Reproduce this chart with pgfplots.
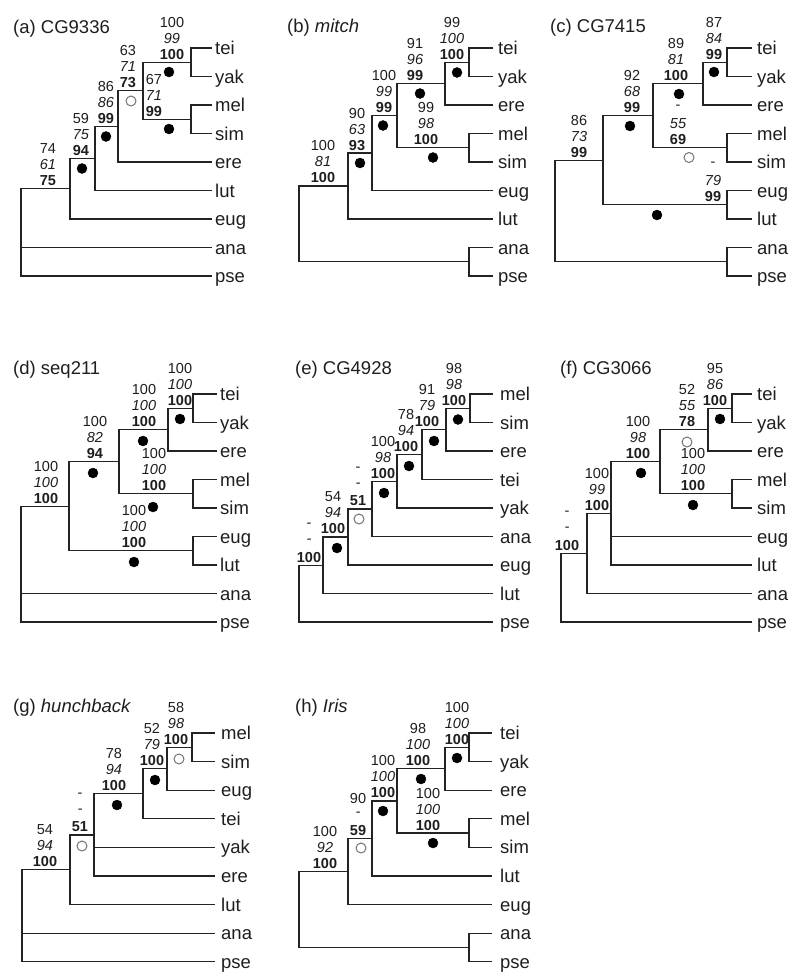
\documentclass[border=0pt]{standalone}
\usepackage{pgfplots}
\pgfplotsset{compat=1.18}
\usepackage{fontspec}
\setmainfont{Liberation Sans}
\definecolor{ln}{RGB}{35,35,35}
\definecolor{tx}{RGB}{30,30,30}
\tikzset{
  nf/.style={inner sep=0pt, font=\fontsize{14.5}{16}\selectfont, text=tx},
  ni/.style={inner sep=0pt, font=\fontsize{14.5}{16}\selectfont\itshape, text=tx},
  nb/.style={inner sep=0pt, font=\fontsize{14.5}{16}\selectfont\bfseries, text=tx},
  lab/.style={anchor=base west, inner sep=0pt, font=\fontsize{18.5}{20}\selectfont, text=tx}
}
\pgfplotsset{br/.style={ln, line width=1.3pt, forget plot}}
\newcommand{\br}[1]{\addplot[br] coordinates {#1};}
\newcommand{\tip}[3]{\node[lab] at (axis cs:#1,#2+6.5) {#3};}
\newcommand{\sv}[5]{%
  \node[nf] at (axis cs:#1,#2-40) {#3};
  \node[ni] at (axis cs:#1,#2-24) {#4};
  \node[nb] at (axis cs:#1,#2-8) {#5};}
\newcommand{\fdots}[1]{\addplot[only marks, mark=*, mark size=5pt, black, forget plot] coordinates {#1};}
\newcommand{\odots}[1]{\addplot[only marks, mark=o, mark size=5pt, black!55, mark options={line width=1pt}, forget plot] coordinates {#1};}
\begin{document}
\begin{tikzpicture}
\begin{axis}[width=800pt, height=980pt, scale only axis, xmin=0, xmax=800, ymin=0, ymax=980, y dir=reverse, hide axis, clip=false]
\path (axis cs:0,0) rectangle (axis cs:800,980);
% ---------- (a) CG9336
\node[lab] at (axis cs:13,33.5) {(a) CG9336};
\br{(212,48)(191,48)(191,76.5)(212,76.5)}
\br{(212,105)(191,105)(191,133.5)(212,133.5)}
\br{(191,62.25)(143,62.25)(143,119.25)(191,119.25)}
\br{(143,90.75)(118,90.75)(118,162)(212,162)}
\br{(118,126.4)(95,126.4)(95,190.5)(212,190.5)}
\br{(95,158.2)(70,158.2)(70,219)(212,219)}
\br{(70,188.6)(21,188.6)(21,276)(212,276)}
\br{(21,247.5)(212,247.5)}
\tip{215}{48}{tei}\tip{215}{76.5}{yak}\tip{215}{105}{mel}\tip{215}{133.5}{sim}\tip{215}{162}{ere}
\tip{215}{190.5}{lut}\tip{215}{219}{eug}\tip{215}{247.5}{ana}\tip{215}{276}{pse}
\sv{172}{62.25}{100}{99}{100}
\sv{128}{90.75}{63}{71}{73}
\sv{154}{119.25}{67}{71}{99}
\sv{106}{126.4}{86}{86}{99}
\sv{81}{158.2}{59}{75}{94}
\sv{48}{188.6}{74}{61}{75}
\fdots{(169,72)(169,129)(106,136.5)(82,168.5)}
\odots{(131,101)}
% ---------- (b) mitch
\node[lab] at (axis cs:287,32.5) {(b) \textit{mitch}};
\br{(493,48)(469,48)(469,76.5)(493,76.5)}
\br{(469,62.25)(445,62.25)(445,105)(493,105)}
\br{(493,133.5)(469,133.5)(469,162)(493,162)}
\br{(445,83.6)(397,83.6)(397,147.75)(469,147.75)}
\br{(397,115.7)(372,115.7)(372,190.5)(493,190.5)}
\br{(372,153.1)(348,153.1)(348,219)(493,219)}
\br{(493,247.5)(469,247.5)(469,276)(493,276)}
\br{(348,186)(299,186)(299,261.75)(469,261.75)}
\tip{498}{48}{tei}\tip{498}{76.5}{yak}\tip{498}{105}{ere}\tip{498}{133.5}{mel}\tip{498}{162}{sim}
\tip{498}{190.5}{eug}\tip{498}{219}{lut}\tip{498}{247.5}{ana}\tip{498}{276}{pse}
\sv{452}{62.25}{99}{100}{100}
\sv{415}{83.6}{91}{96}{99}
\sv{426}{147.75}{99}{98}{100}
\sv{384}{115.7}{100}{99}{99}
\sv{357}{153.1}{90}{63}{93}
\sv{323}{186}{100}{81}{100}
\fdots{(457,72.5)(420,93.5)(433,157.5)(383,125.5)(360,163)}
% ---------- (c) CG7415
\node[lab] at (axis cs:550,32.5) {(c) CG7415};
\br{(752,48)(727,48)(727,76.5)(752,76.5)}
\br{(727,62.25)(703,62.25)(703,105)(752,105)}
\br{(752,133.5)(727,133.5)(727,162)(752,162)}
\br{(703,83.6)(653,83.6)(653,147.75)(727,147.75)}
\br{(752,190.5)(727,190.5)(727,219)(752,219)}
\br{(653,115.7)(603,115.7)(603,204.75)(727,204.75)}
\br{(752,247.5)(727,247.5)(727,276)(752,276)}
\br{(603,160.2)(555,160.2)(555,261.75)(727,261.75)}
\tip{757}{48}{tei}\tip{757}{76.5}{yak}\tip{757}{105}{ere}\tip{757}{133.5}{mel}\tip{757}{162}{sim}
\tip{757}{190.5}{eug}\tip{757}{219}{lut}\tip{757}{247.5}{ana}\tip{757}{276}{pse}
\sv{714}{62.25}{87}{84}{99}
\sv{676}{83.6}{89}{81}{100}
\sv{678}{147.75}{-}{55}{69}
\sv{632}{115.7}{92}{68}{99}
\sv{713}{204.75}{-}{79}{99}
\sv{579}{160.2}{86}{73}{99}
\fdots{(714,72)(679,94)(630,126)(657,215)}
\odots{(689,157.5)}
% ---------- (d) seq211
\node[lab] at (axis cs:13,374.5) {(d) seq211};
\br{(217,394)(193,394)(193,422.5)(217,422.5)}
\br{(193,408.25)(168,408.25)(168,451)(217,451)}
\br{(217,479.5)(193,479.5)(193,508)(217,508)}
\br{(168,429.6)(119,429.6)(119,493.75)(193,493.75)}
\br{(217,536.5)(193,536.5)(193,565)(217,565)}
\br{(119,461.7)(69,461.7)(69,550.75)(193,550.75)}
\br{(69,506.2)(21,506.2)(21,622)(217,622)}
\br{(21,593.5)(217,593.5)}
\tip{220}{394}{tei}\tip{220}{422.5}{yak}\tip{220}{451}{ere}\tip{220}{479.5}{mel}\tip{220}{508}{sim}
\tip{220}{536.5}{eug}\tip{220}{565}{lut}\tip{220}{593.5}{ana}\tip{220}{622}{pse}
\sv{180}{408.25}{100}{100}{100}
\sv{144}{429.6}{100}{100}{100}
\sv{154}{493.75}{100}{100}{100}
\sv{134}{550.75}{100}{100}{100}
\sv{95}{461.7}{100}{82}{94}
\sv{46}{506.2}{100}{100}{100}
\fdots{(180,419)(143,441)(153,507)(134,562)(93,473)}
% ---------- (e) CG4928
\node[lab] at (axis cs:295,374.5) {(e) CG4928};
\br{(493,394)(470,394)(470,422.5)(493,422.5)}
\br{(470,408.25)(446,408.25)(446,451)(493,451)}
\br{(446,429.6)(422,429.6)(422,479.5)(493,479.5)}
\br{(422,454.6)(397,454.6)(397,508)(493,508)}
\br{(397,481.3)(372,481.3)(372,536.5)(493,536.5)}
\br{(372,508.9)(348,508.9)(348,565)(493,565)}
\br{(348,537)(323,537)(323,593.5)(493,593.5)}
\br{(323,565.2)(299,565.2)(299,622)(493,622)}
\tip{500}{394}{mel}\tip{500}{422.5}{sim}\tip{500}{451}{ere}\tip{500}{479.5}{tei}\tip{500}{508}{yak}
\tip{500}{536.5}{ana}\tip{500}{565}{eug}\tip{500}{593.5}{lut}\tip{500}{622}{pse}
\sv{454}{408.25}{98}{98}{100}
\sv{427}{429.6}{91}{79}{100}
\sv{406}{454.6}{78}{94}{100}
\sv{383}{481.3}{100}{98}{100}
\sv{358}{508.9}{-}{-}{51}
\sv{333}{537}{54}{94}{100}
\sv{309}{565.2}{-}{-}{100}
\fdots{(458,419.5)(434,441)(409,466)(384,493)(337,548)}
\odots{(359,519)}
% ---------- (f) CG3066
\node[lab] at (axis cs:560,374.5) {(f) CG3066};
\br{(752,394)(732,394)(732,422.5)(752,422.5)}
\br{(732,408.25)(708,408.25)(708,451)(752,451)}
\br{(752,479.5)(732,479.5)(732,508)(752,508)}
\br{(708,429.6)(660,429.6)(660,493.75)(732,493.75)}
\br{(660,461.7)(611,461.7)(611,565)(752,565)}
\br{(611,536.5)(752,536.5)}
\br{(611,513.35)(587,513.35)(587,593.5)(752,593.5)}
\br{(587,553.4)(561,553.4)(561,622)(752,622)}
\tip{757}{394}{tei}\tip{757}{422.5}{yak}\tip{757}{451}{ere}\tip{757}{479.5}{mel}\tip{757}{508}{sim}
\tip{757}{536.5}{eug}\tip{757}{565}{lut}\tip{757}{593.5}{ana}\tip{757}{622}{pse}
\sv{715}{408.25}{95}{86}{100}
\sv{687}{429.6}{52}{55}{78}
\sv{693}{493.75}{100}{100}{100}
\sv{638}{461.7}{100}{98}{100}
\sv{597}{513.35}{100}{99}{100}
\sv{567}{553.4}{-}{-}{100}
\fdots{(720,419)(693,505)(641,473)}
\odots{(687,442)}
% ---------- (g) hunchback
\node[lab] at (axis cs:13,712.5) {(g) \textit{hunchback}};
\br{(215,733)(192,733)(192,761.6)(215,761.6)}
\br{(192,747.3)(167,747.3)(167,790.2)(215,790.2)}
\br{(167,768.75)(143,768.75)(143,818.8)(215,818.8)}
\br{(143,793.8)(94,793.8)(94,876)(215,876)}
\br{(94,847.4)(215,847.4)}
\br{(94,834.9)(70,834.9)(70,904.6)(215,904.6)}
\br{(70,869.75)(22,869.75)(22,961.8)(215,961.8)}
\br{(22,933.2)(215,933.2)}
\tip{221}{733}{mel}\tip{221}{761.6}{sim}\tip{221}{790.2}{eug}\tip{221}{818.8}{tei}\tip{221}{847.4}{yak}
\tip{221}{876}{ere}\tip{221}{904.6}{lut}\tip{221}{933.2}{ana}\tip{221}{961.8}{pse}
\sv{176}{747.3}{58}{98}{100}
\sv{152}{768.75}{52}{79}{100}
\sv{114}{793.8}{78}{94}{100}
\sv{80}{834.9}{-}{-}{51}
\sv{45}{869.75}{54}{94}{100}
\fdots{(155,780)(117,805)}
\odots{(179,759)(82,846)}
% ---------- (h) Iris
\node[lab] at (axis cs:295,712.5) {(h) \textit{Iris}};
\br{(492,733)(469,733)(469,761.6)(492,761.6)}
\br{(469,747.3)(445,747.3)(445,790.2)(492,790.2)}
\br{(492,818.8)(469,818.8)(469,847.4)(492,847.4)}
\br{(445,768.75)(397,768.75)(397,833.1)(469,833.1)}
\br{(397,800.9)(372,800.9)(372,876)(492,876)}
\br{(372,838.45)(348,838.45)(348,904.6)(492,904.6)}
\br{(492,933.2)(469,933.2)(469,961.8)(492,961.8)}
\br{(348,871.5)(299,871.5)(299,947.5)(469,947.5)}
\tip{500}{733}{tei}\tip{500}{761.6}{yak}\tip{500}{790.2}{ere}\tip{500}{818.8}{mel}\tip{500}{847.4}{sim}
\tip{500}{876}{lut}\tip{500}{904.6}{eug}\tip{500}{933.2}{ana}\tip{500}{961.8}{pse}
\sv{457}{747.3}{100}{100}{100}
\sv{418}{768.75}{98}{100}{100}
\sv{428}{833.1}{100}{100}{100}
\sv{383}{800.9}{100}{100}{100}
\sv{358}{838.45}{90}{-}{59}
\sv{325}{871.5}{100}{92}{100}
\fdots{(457,758)(421,779)(433,843)(383,811)}
\odots{(361,848)}
\end{axis}
\end{tikzpicture}
\end{document}
